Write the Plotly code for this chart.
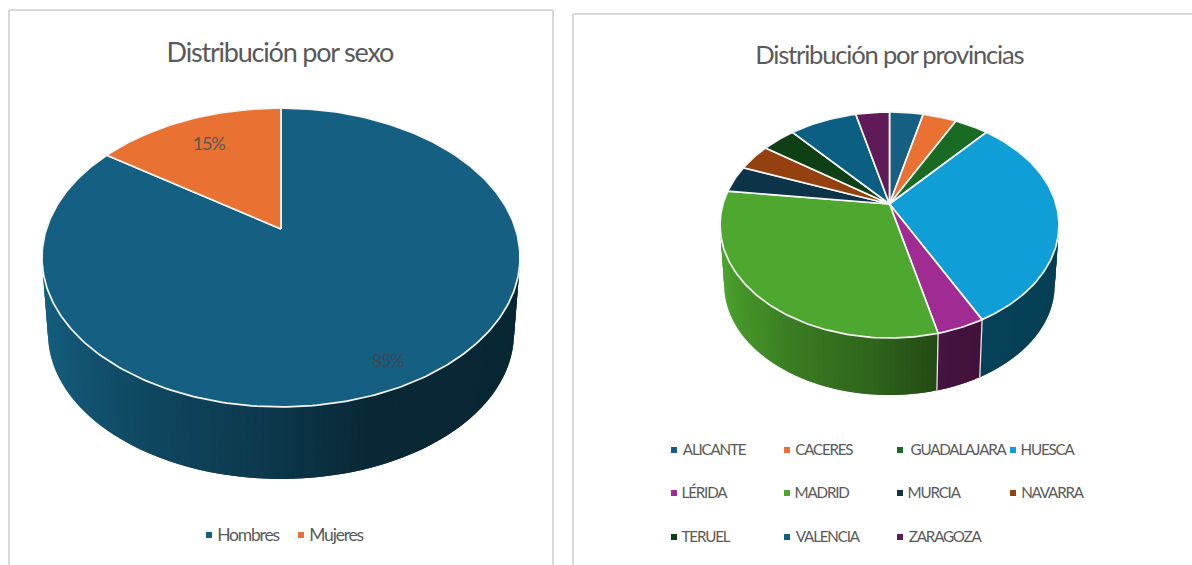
import numpy as np
import plotly.graph_objects as go

# ---------- data ----------
sexo_labels = ["Hombres", "Mujeres"]
sexo_values = [22, 4]
sexo_colors = ["#156082", "#E97132"]

prov_labels = ["ALICANTE", "CACERES", "GUADALAJARA", "HUESCA", "LÉRIDA", "MADRID",
               "MURCIA", "NAVARRA", "TERUEL", "VALENCIA", "ZARAGOZA"]
prov_values = [1, 1, 1, 8, 1, 8, 1, 1, 1, 2, 1]
prov_colors = ["#156082", "#E97132", "#196B24", "#0F9ED5", "#A02B93", "#4EA72E",
               "#0D3349", "#95410F", "#0F4015", "#0A5F82", "#601A57"]

FONT = "Lato"
TXT = "#595959"
fig = go.Figure()
annots = []


def rgb(hexcol, f=1.0):
    h = hexcol.lstrip("#")
    return "rgb(%d,%d,%d)" % tuple(round(int(h[i:i + 2], 16) * f) for i in (0, 2, 4))


def pie3d(values, colors, cx, y0, A, B, k, depth, shrink, x_left, width):
    """Tilted pie with perspective, drawn from the values on pixel-like axes."""
    def proj(theta_deg, lower=False):
        t = np.radians(theta_deg)
        u, v = np.sin(t), np.cos(t)
        w = 1 + k * v
        s = shrink if lower else 1.0
        yc = y0 + depth if lower else y0
        return cx + A * s * u / w, yc - B * s * v / w

    total = sum(values)
    edges = np.concatenate([[0], np.cumsum(values)]) * 360.0 / total

    # side wall, painted as shaded strips that overlap the next one to avoid seams
    for i, col in enumerate(colors):
        a0, a1 = max(edges[i], 80), min(edges[i + 1], 280)
        if a1 <= a0:
            continue
        n = max(1, int((a1 - a0) / 1.5))
        grid = np.linspace(a0, a1, n + 1)
        for j in range(n):
            g0, g1 = grid[j], grid[min(j + 2, n)]
            arc = np.linspace(g0, g1, 4)
            xt, yt = proj(arc)
            xl, yl = proj(arc[::-1], True)
            tpos = ((proj(grid[j])[0] + proj(grid[j + 1])[0]) / 2 - x_left) / width
            f = np.interp(tpos, [0, 0.05, 0.2, 0.45, 0.68, 1], [0.98, 0.9, 0.75, 0.6, 0.42, 0.4])
            c = rgb(col, f)
            fig.add_trace(go.Scatter(x=np.r_[xt, xl, xt[0]], y=np.r_[yt, yl, yt[0]], mode="lines",
                                     fill="toself", fillcolor=c, line=dict(width=0),
                                     hoverinfo="skip", showlegend=False))
    # separators on the wall
    for e in edges:
        if 100 < e < 260:
            xa, ya = proj(e)
            xb, yb = proj(e, True)
            fig.add_trace(go.Scatter(x=[xa, xb], y=[ya, yb], mode="lines",
                                     line=dict(color="#E6E6E6", width=1.3),
                                     hoverinfo="skip", showlegend=False))
    # top face
    for i, col in enumerate(colors):
        th = np.linspace(edges[i], edges[i + 1], max(3, int(edges[i + 1] - edges[i]) + 2))
        px, py = proj(th)
        fig.add_trace(go.Scatter(x=np.r_[cx, px, cx], y=np.r_[y0, py, y0], mode="lines",
                                 fill="toself", fillcolor=col,
                                 line=dict(color="#F7F7F7", width=1.7),
                                 hoverinfo="skip", showlegend=False))


pie3d(sexo_values, sexo_colors, 281, 229, 234.6, 144, 0.1906, 76.5, 0.975, 42, 478)
pie3d(prov_values, prov_colors, 889.5, 204, 166.5, 109.1, 0.1858, 60.4, 0.975, 720, 339)


def legend(labels, colors, mx, my, size):
    fig.add_trace(go.Scatter(x=mx, y=my, mode="markers",
                             marker=dict(symbol="square", size=6, color=colors),
                             hoverinfo="skip", showlegend=False))
    for lab, x, y in zip(labels, mx, my):
        annots.append(dict(x=x + 1.5, y=y - 1, text=lab, xref="x", yref="y", showarrow=False,
                           xanchor="left", yanchor="middle",
                           font=dict(family=FONT, size=size, color=TXT)))


legend(sexo_labels, sexo_colors, [209, 301], [535, 535], 17.5)
legend(prov_labels, prov_colors,
       [674, 787, 900, 1013, 674, 787, 900, 1013, 674, 787, 900],
       [450, 450, 450, 450, 493, 493, 493, 493, 537, 537, 537], 15.2)

# percent labels and titles
pct = [f"{round(v / sum(sexo_values) * 100)}%" for v in sexo_values]
for x, y, text, size, color in [
    (387, 360, pct[0], 18, "#3B4A54"),
    (208, 143, pct[1], 18, "#595959"),
    (280, 51, "Distribución por sexo", 27, TXT),
    (889, 54, "Distribución por provincias", 25.6, TXT),
]:
    annots.append(dict(x=x, y=y, text=text, xref="x", yref="y", showarrow=False,
                       xanchor="center", yanchor="middle",
                       font=dict(family=FONT, size=size, color=color)))

frame = dict(color="#D9D9D9", width=2)
shapes = [
    dict(type="line", x0=9, x1=553, y0=10, y1=10, line=frame),
    dict(type="line", x0=9, x1=9, y0=10, y1=565, line=frame),
    dict(type="line", x0=553, x1=553, y0=10, y1=565, line=frame),
    dict(type="line", x0=573, x1=1192, y0=14, y1=14, line=frame),
    dict(type="line", x0=573, x1=573, y0=14, y1=565, line=frame),
]

fig.update_layout(
    width=1192, height=565, margin=dict(l=0, r=0, t=0, b=0),
    paper_bgcolor="white", plot_bgcolor="white", showlegend=False,
    annotations=annots, shapes=shapes,
    xaxis=dict(range=[0, 1192], visible=False, fixedrange=True),
    yaxis=dict(range=[565, 0], visible=False, fixedrange=True),
)
fig.write_html("out.html", config={"displayModeBar": False},
               post_script="document.body.style.margin='0';document.body.style.overflow='hidden';"
                           "var s=document.createElement('style');"
                           "s.textContent='.annotation-text{letter-spacing:-1.2px}';"
                           "document.head.appendChild(s);")
